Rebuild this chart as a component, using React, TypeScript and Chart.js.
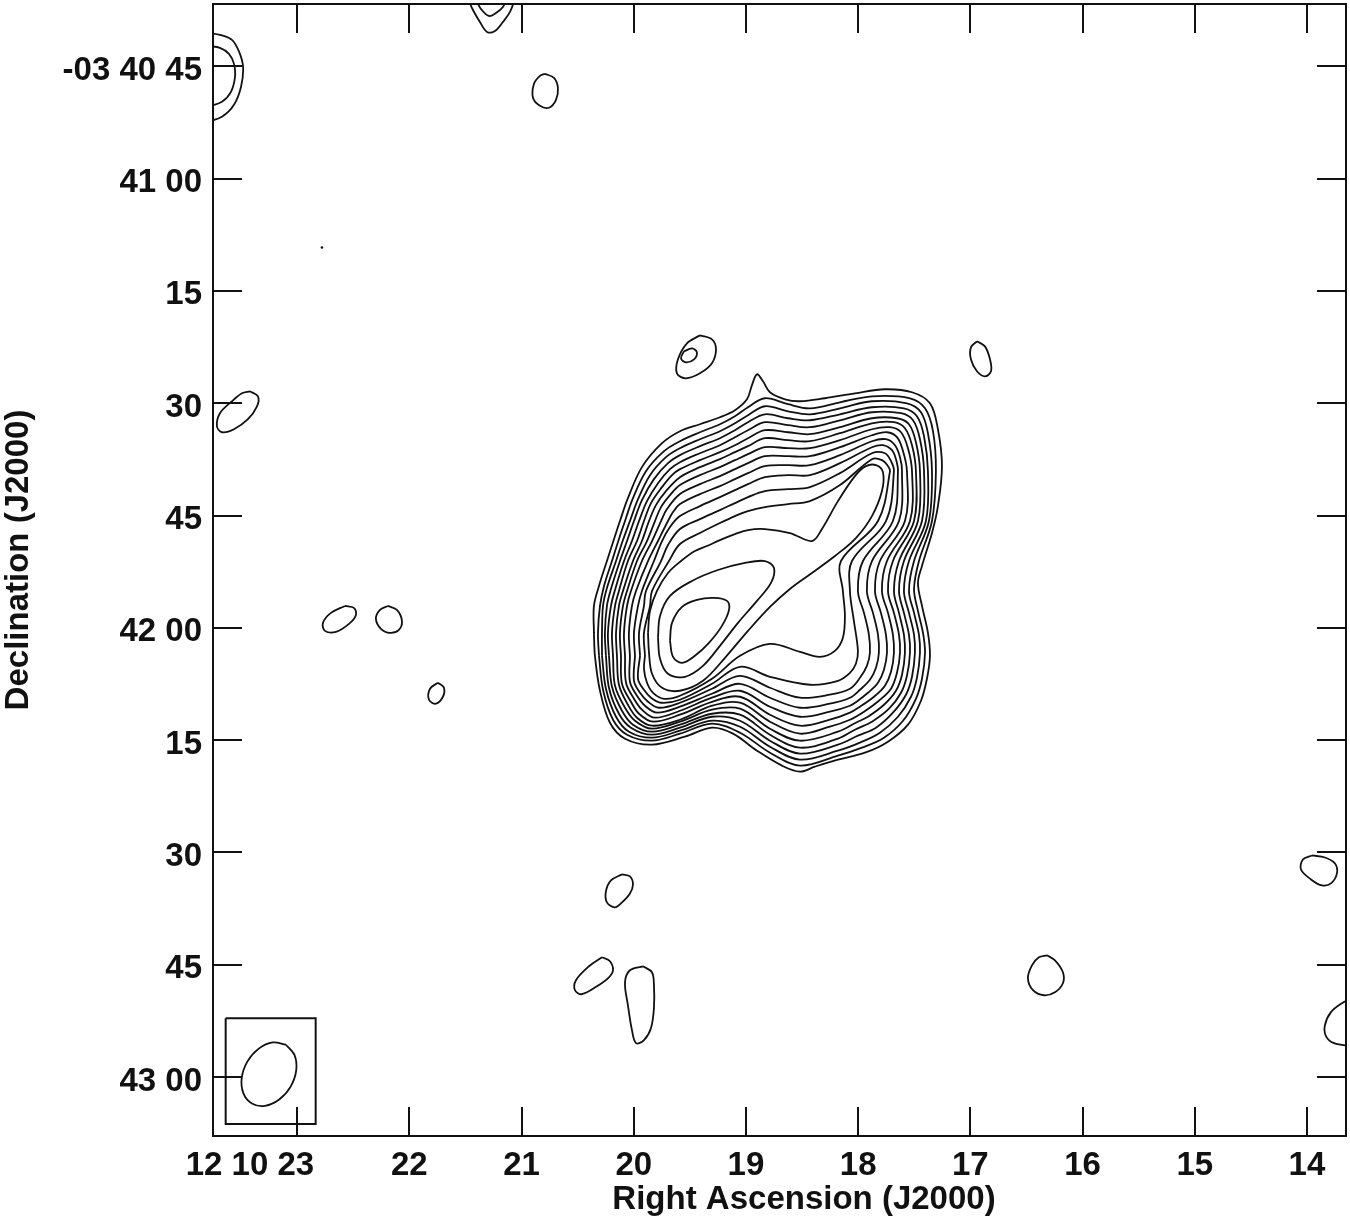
import React, { useEffect, useRef } from 'react';
import { Chart, registerables } from 'chart.js';

Chart.register(...registerables);

// ---------- axes (RA: seconds after 12h10m, Dec: arcsec south of -03°40'00") ----------
const RA_RANGE = [13.652, 23.75];
const DEC_RANGE = [36.67, 187.87];
const RA_TICK_VALUES = [23, 22, 21, 20, 19, 18, 17, 16, 15, 14];
const RA_TICK_LABELS = ['12 10 23', '22', '21', '20', '19', '18', '17', '16', '15', '14'];
const DEC_TICK_VALUES = [45, 60, 75, 90, 105, 120, 135, 150, 165, 180];
const DEC_TICK_LABELS = ['-03 40 45', '41 00', '15', '30', '45', '42 00', '15', '30', '45', '43 00'];
const X_TITLE = 'Right Ascension (J2000)';
const Y_TITLE = 'Declination (J2000)';

// ---------- main source contours, [ra, dec, ra, dec, ...], outermost first ----------
const SRC_L01 = [20.355,120.67, 20.355,117.07, 20.310,114.4, 20.239,111.07, 20.167,107.73, 20.123,105.73, 20.052,102.67, 19.927,98.53, 19.748,95.33, 19.588,93.73, 19.410,92.8, 19.232,91.87, 19.098,90.93, 18.991,89.47, 18.947,87.6, 18.902,86.13, 18.848,87.07, 18.786,88.53, 18.652,89.47, 18.519,89.73, 18.296,89.33, 18.029,88.67, 17.761,88.13, 17.520,88.53, 17.360,90.0, 17.289,93.47, 17.253,98.4, 17.289,103.73, 17.342,107.33, 17.431,111.73, 17.467,114.0, 17.431,117.07, 17.378,120.67, 17.360,123.73, 17.387,126.8, 17.440,129.73, 17.556,132.93, 17.734,135.2, 17.939,136.67, 18.180,137.6, 18.385,138.53, 18.519,139.2, 18.679,138.4, 18.902,136.4, 19.116,134.13, 19.303,133.33, 19.544,134.53, 19.837,135.6, 20.078,134.8, 20.212,132.67, 20.301,128.4, 20.346,123.73];
const SRC_L02 = [20.310,123.73, 20.319,120.67, 20.301,117.07, 20.265,114.4, 20.194,111.07, 20.132,108.13, 20.078,105.73, 20.007,102.67, 19.891,99.07, 19.730,96.4, 19.588,95.07, 19.410,93.87, 19.232,92.8, 19.098,91.73, 18.982,90.53, 18.831,89.33, 18.625,90.13, 18.430,90.67, 18.162,89.87, 17.877,89.07, 17.538,89.33, 17.404,90.67, 17.333,93.73, 17.307,99.07, 17.342,105.73, 17.458,111.07, 17.502,114.8, 17.467,117.73, 17.422,120.67, 17.404,123.33, 17.431,126.8, 17.485,129.47, 17.600,132.4, 17.770,134.67, 17.966,136.0, 18.180,137.07, 18.519,138.4, 18.786,136.67, 19.053,134.0, 19.303,132.8, 19.588,134.13, 19.837,135.07, 20.060,134.27, 20.185,132.27, 20.274,128.27];
const SRC_L03 = [20.283,123.73, 20.283,120.67, 20.274,117.07, 20.239,114.67, 20.158,111.07, 20.096,108.27, 20.034,105.73, 19.962,102.8, 19.855,99.6, 19.713,97.2, 19.588,96.0, 19.410,94.8, 19.232,93.73, 19.098,92.67, 18.982,91.6, 18.831,90.4, 18.625,91.07, 18.430,91.47, 18.162,90.67, 17.877,89.73, 17.565,90.0, 17.440,91.2, 17.378,94.0, 17.342,99.07, 17.369,105.73, 17.502,111.07, 17.547,115.07, 17.502,118.0, 17.458,120.93, 17.449,123.33, 17.476,126.67, 17.529,129.2, 17.645,131.87, 17.806,134.0, 17.984,135.33, 18.180,136.4, 18.519,137.6, 18.786,135.87, 19.053,133.2, 19.303,132.4, 19.588,133.73, 19.837,134.67, 20.043,133.87, 20.158,131.87, 20.248,128.13];
const SRC_L04 = [20.248,123.73, 20.257,120.67, 20.239,117.07, 20.203,114.8, 20.123,111.07, 20.060,108.4, 19.998,105.73, 19.927,102.93, 19.820,100.13, 19.695,98.0, 19.588,96.93, 19.410,95.73, 19.232,94.67, 19.098,93.6, 18.982,92.53, 18.831,91.47, 18.625,92.0, 18.430,92.27, 18.162,91.47, 17.877,90.53, 17.592,90.67, 17.476,91.73, 17.413,94.4, 17.378,99.07, 17.396,105.73, 17.547,111.07, 17.592,115.07, 17.547,118.0, 17.502,120.93, 17.494,123.33, 17.520,126.53, 17.574,128.93, 17.690,131.33, 17.841,133.33, 18.002,134.4, 18.180,135.6, 18.519,136.8, 18.786,135.07, 19.053,132.4, 19.303,131.87, 19.588,133.33, 19.837,134.27, 20.025,133.33, 20.132,131.47, 20.221,128.0];
const SRC_L05 = [20.221,123.73, 20.230,120.67, 20.203,117.07, 20.167,114.93, 20.087,111.07, 20.016,108.4, 19.953,105.73, 19.882,103.07, 19.784,100.67, 19.677,98.8, 19.588,97.87, 19.410,96.67, 19.232,95.6, 19.098,94.53, 18.982,93.6, 18.831,92.53, 18.625,92.93, 18.430,93.2, 18.162,92.27, 17.877,91.2, 17.618,91.33, 17.511,92.27, 17.449,94.8, 17.413,99.07, 17.431,105.73, 17.592,111.07, 17.636,115.07, 17.592,118.0, 17.547,120.93, 17.538,123.33, 17.565,126.4, 17.618,128.67, 17.725,130.8, 17.877,132.53, 18.029,133.6, 18.180,134.8, 18.519,136.0, 18.786,134.27, 19.053,131.6, 19.303,131.47, 19.588,132.93, 19.837,133.87, 20.007,132.93, 20.105,131.07, 20.194,127.87];
const SRC_L06 = [20.185,123.73, 20.194,120.67, 20.167,117.07, 20.132,115.07, 20.052,111.07, 19.971,108.4, 19.909,105.73, 19.846,103.33, 19.748,101.2, 19.659,99.6, 19.588,98.8, 19.410,97.6, 19.232,96.53, 19.098,95.6, 18.982,94.67, 18.831,93.6, 18.625,93.87, 18.430,94.13, 18.162,93.2, 17.877,92.0, 17.654,92.0, 17.547,92.8, 17.485,95.2, 17.449,99.07, 17.467,105.73, 17.636,111.07, 17.681,115.07, 17.636,118.0, 17.592,120.93, 17.583,123.33, 17.609,126.27, 17.663,128.4, 17.770,130.27, 17.913,131.87, 18.020,132.67, 18.180,133.87, 18.519,135.07, 18.786,133.47, 19.053,130.8, 19.303,130.93, 19.588,132.53, 19.837,133.47, 19.989,132.4, 20.078,130.67, 20.167,127.73];
const SRC_L07 = [20.150,123.73, 20.158,120.67, 20.132,117.07, 20.096,115.07, 20.007,111.07, 19.927,108.4, 19.864,105.73, 19.802,103.6, 19.713,101.73, 19.588,99.87, 19.410,98.53, 19.232,97.47, 19.098,96.53, 18.982,95.73, 18.831,94.67, 18.625,94.93, 18.430,95.07, 18.162,94.0, 17.877,92.67, 17.681,92.53, 17.583,93.33, 17.520,95.6, 17.485,99.07, 17.502,105.73, 17.690,111.07, 17.734,115.07, 17.681,118.0, 17.636,120.93, 17.627,123.33, 17.654,126.0, 17.707,128.13, 17.815,129.73, 17.948,131.2, 18.073,132.27, 18.252,133.2, 18.519,134.13, 18.786,132.53, 19.053,130.0, 19.303,130.4, 19.588,132.27, 19.837,133.07, 19.971,132.0, 20.052,130.27, 20.132,127.6];
const SRC_L08 = [20.114,123.73, 20.123,120.67, 20.096,117.07, 20.060,115.07, 19.971,111.07, 19.882,108.4, 19.811,105.73, 19.757,103.87, 19.677,102.27, 19.588,100.93, 19.410,99.6, 19.232,98.53, 19.098,97.6, 18.982,96.8, 18.831,95.87, 18.625,96.0, 18.430,96.0, 18.162,94.93, 17.877,93.47, 17.716,93.2, 17.618,93.87, 17.556,96.0, 17.520,99.07, 17.538,105.73, 17.743,111.07, 17.788,115.07, 17.734,118.0, 17.690,120.93, 17.681,123.33, 17.707,125.87, 17.761,127.73, 17.859,129.2, 17.984,130.53, 18.073,131.33, 18.252,132.27, 18.519,133.07, 18.786,131.6, 19.053,129.2, 19.303,129.87, 19.588,131.6, 19.828,132.53, 19.953,131.47, 20.025,129.87, 20.105,127.47];
const SRC_L09 = [20.078,123.73, 20.087,120.67, 20.060,117.07, 20.025,115.07, 19.927,111.07, 19.837,108.4, 19.757,105.73, 19.704,104.13, 19.588,102.13, 19.410,100.8, 19.232,99.73, 19.098,98.8, 18.982,98.0, 18.831,97.07, 18.625,97.07, 18.430,97.07, 18.162,95.87, 17.877,94.27, 17.743,93.87, 17.654,94.53, 17.600,96.4, 17.565,99.07, 17.583,105.73, 17.806,111.07, 17.850,115.07, 17.797,118.0, 17.752,120.93, 17.743,123.33, 17.770,125.6, 17.823,127.33, 17.913,128.67, 18.002,129.73, 18.073,130.4, 18.252,131.2, 18.519,131.87, 18.786,130.53, 19.053,128.4, 19.303,129.33, 19.588,131.07, 19.811,132.0, 19.927,130.93, 19.998,129.47, 20.069,127.33];
const SRC_L10 = [20.034,123.73, 20.043,120.67, 20.016,117.07, 19.980,115.07, 19.873,111.07, 19.784,108.4, 19.695,105.73, 19.650,104.53, 19.588,103.47, 19.410,102.13, 19.232,101.07, 19.098,100.13, 18.982,99.33, 18.831,98.4, 18.625,98.27, 18.430,98.27, 18.162,96.93, 17.877,95.07, 17.752,94.8, 17.672,95.6, 17.627,97.2, 17.609,99.07, 17.636,105.73, 17.877,111.07, 17.922,115.07, 17.868,118.0, 17.823,120.93, 17.815,123.33, 17.841,125.33, 17.895,126.93, 17.984,128.27, 18.073,129.33, 18.252,130.13, 18.519,130.67, 18.786,129.33, 19.053,127.47, 19.303,128.8, 19.588,130.53, 19.793,131.33, 19.900,130.4, 19.971,129.07, 20.034,127.2];
const SRC_L11 = [19.989,123.73, 19.998,120.67, 19.962,117.07, 19.927,115.07, 19.820,111.07, 19.748,108.4, 19.677,106.53, 19.588,105.07, 19.410,103.73, 19.232,102.53, 19.098,101.6, 18.982,100.8, 18.831,99.87, 18.625,99.6, 18.430,99.6, 18.162,98.0, 17.877,95.87, 17.779,95.6, 17.699,96.27, 17.663,97.47, 17.645,99.07, 17.690,105.73, 17.957,111.07, 18.002,115.07, 17.948,118.0, 17.904,120.93, 17.895,123.33, 17.922,125.07, 17.984,126.67, 18.073,128.13, 18.252,128.93, 18.519,129.33, 18.786,128.0, 19.053,126.4, 19.303,128.13, 19.588,130.0, 19.775,130.67, 19.873,129.87, 19.944,128.67, 19.998,127.07];
const SRC_L12 = [19.944,123.73, 19.953,120.67, 19.909,117.07, 19.891,115.07, 19.757,111.07, 19.695,108.93, 19.588,106.8, 19.410,105.47, 19.232,104.27, 19.098,103.33, 18.982,102.53, 18.831,101.73, 18.625,101.47, 18.430,101.2, 18.162,99.33, 17.877,96.67, 17.761,96.67, 17.707,97.73, 17.681,99.07, 17.752,105.73, 18.055,111.07, 18.073,115.07, 18.038,119.07, 18.002,123.07, 18.020,124.8, 18.073,126.0, 18.180,127.07, 18.430,127.6, 18.786,126.53, 19.053,125.2, 19.303,127.47, 19.588,129.6, 19.757,130.0, 19.846,129.33, 19.909,128.27, 19.962,126.8];
const SRC_L13 = [19.900,123.73, 19.909,120.67, 19.855,117.07, 19.837,115.07, 19.686,111.07, 19.588,108.8, 19.410,107.33, 19.232,106.0, 19.098,105.07, 18.982,104.4, 18.831,103.87, 18.625,103.47, 18.430,103.07, 18.162,100.93, 17.877,97.47, 17.788,97.6, 17.734,98.4, 17.716,99.07, 17.823,105.73, 18.153,111.07, 18.136,115.07, 18.118,118.4, 18.136,121.33, 18.207,123.07, 18.341,123.87, 18.519,123.2, 18.786,122.13, 19.053,123.73, 19.303,126.8, 19.588,129.07, 19.730,129.47, 19.828,128.67, 19.882,127.33, 19.909,125.47];
const SRC_L14 = [19.873,120.67, 19.855,117.73, 19.793,115.07, 19.695,112.67, 19.579,111.07, 19.455,109.73, 19.348,109.07, 19.232,108.27, 19.098,107.47, 18.982,106.93, 18.831,106.8, 18.608,107.33, 18.412,108.4, 18.323,106.8, 18.180,103.07, 18.029,99.73, 17.931,98.4, 17.841,98.27, 17.779,99.2, 17.788,101.73, 17.877,105.07, 18.020,108.0, 18.207,110.4, 18.412,112.67, 18.608,114.8, 18.786,117.2, 18.982,120.4, 19.187,124.0, 19.383,127.07, 19.588,128.4, 19.748,128.0, 19.837,126.13, 19.864,123.33];
const SRC_L15 = [19.784,121.33, 19.766,118.4, 19.677,115.73, 19.481,113.73, 19.250,112.27, 19.009,111.33, 18.831,111.07, 18.750,112.0, 18.777,114.0, 18.902,116.4, 19.071,119.33, 19.232,122.4, 19.383,125.07, 19.544,126.53, 19.695,126.13, 19.766,124.13];
const SRC_L16 = [19.677,121.73, 19.659,119.33, 19.570,117.2, 19.437,116.27, 19.285,116.0, 19.169,116.4, 19.151,117.6, 19.214,119.73, 19.330,122.0, 19.455,123.73, 19.570,124.67, 19.650,123.87];

// ---------- small noise islands (closed) ----------
const OVAL_TOP = [20.791,46.0, 20.711,46.53, 20.676,47.87, 20.693,49.47, 20.756,50.53, 20.836,50.27, 20.898,49.2, 20.889,47.33, 20.836,46.27];
const OVAL_N_OUTER = [19.410,80.93, 19.303,81.47, 19.267,82.8, 19.303,84.67, 19.410,86.0, 19.535,86.67, 19.615,86.0, 19.606,84.13, 19.526,82.0];
const OVAL_N_INNER = [19.553,83.07, 19.481,82.67, 19.437,83.2, 19.463,84.13, 19.535,84.53, 19.579,84.0];
const OVAL_NE = [16.941,81.73, 16.870,82.4, 16.825,84.13, 16.816,85.73, 16.870,86.4, 16.941,85.73, 16.995,84.13, 16.995,82.53];
const OVAL_W = [23.421,88.4, 23.349,89.07, 23.358,90.4, 23.439,92.13, 23.563,93.47, 23.670,93.87, 23.715,93.07, 23.688,91.33, 23.581,89.73, 23.492,88.67];
const OVAL_W2 = [22.574,117.07, 22.494,117.33, 22.476,118.27, 22.538,119.47, 22.654,120.53, 22.752,120.4, 22.770,119.33, 22.699,118.0];
const OVAL_W3 = [22.191,117.07, 22.111,117.6, 22.066,119.07, 22.093,120.27, 22.173,120.67, 22.253,120.13, 22.298,118.8, 22.262,117.6];
const OVAL_W4 = [21.745,127.33, 21.692,128.0, 21.701,129.2, 21.763,130.13, 21.825,129.6, 21.816,128.13];
const OVAL_S1 = [20.105,152.93, 20.034,153.2, 20.007,154.27, 20.034,155.47, 20.105,156.67, 20.168,157.33, 20.239,156.67, 20.248,155.2, 20.203,153.73];
const OVAL_S2 = [20.283,164.0, 20.212,164.53, 20.185,165.73, 20.221,166.67, 20.328,167.87, 20.462,168.93, 20.524,168.4, 20.515,167.07, 20.399,165.2];
const OVAL_S3 = [19.918,165.2, 19.838,166.0, 19.820,167.73, 19.820,170.8, 19.847,173.47, 19.909,175.07, 19.980,175.47, 20.016,173.73, 20.052,170.4, 20.078,167.33, 20.034,165.73];
const OVAL_SE = [16.317,163.73, 16.246,164.4, 16.175,166.0, 16.175,167.47, 16.246,168.67, 16.344,169.07, 16.442,168.4, 16.487,166.8, 16.451,165.07, 16.389,164.0];
const OVAL_E = [13.955,150.4, 13.840,150.67, 13.750,151.47, 13.733,152.8, 13.786,154.13, 13.866,154.4, 13.964,153.6, 14.053,152.27, 14.036,150.93];
const NOISE_DOT = [22.779, 69.2];

// ---------- islands cut by the frame (open) ----------
const ARC_TL_OUTER = [23.795,40.53, 23.688,40.8, 23.581,41.47, 23.517,43.07, 23.482,45.07, 23.500,47.73, 23.563,50.13, 23.670,51.73, 23.795,52.4];
const ARC_TL_INNER = [23.795,42.27, 23.688,42.53, 23.608,43.33, 23.563,44.67, 23.554,46.4, 23.590,48.4, 23.670,49.73, 23.795,50.4];
const ARC_TOP_OUTER = [21.478,36.0, 21.433,37.47, 21.371,39.07, 21.308,40.4, 21.237,40.27, 21.166,39.07, 21.103,37.73, 21.059,36.0];
const ARC_TOP_INNER = [21.406,36.13, 21.362,37.33, 21.291,38.27, 21.228,37.87, 21.166,37.07, 21.139,36.13];
const ARC_RIGHT = [13.599,169.47, 13.688,170.13, 13.786,171.33, 13.840,173.07, 13.831,174.53, 13.759,175.47, 13.599,175.87];

// ---------- restoring beam ----------
const BEAM = [23.100,175.68, 23.024,177.04, 23.008,179.08, 23.058,181.27, 23.160,183.0, 23.286,183.84, 23.403,183.52, 23.479,182.17, 23.494,180.12, 23.444,177.93, 23.342,176.2, 23.217,175.37];
const BEAM_BOX = [23.637,172.13, 22.835,172.13, 22.835,186.27, 23.637,186.27];

const SOURCE_CONTOURS = [SRC_L01, SRC_L02, SRC_L03, SRC_L04, SRC_L05, SRC_L06, SRC_L07, SRC_L08, SRC_L09, SRC_L10, SRC_L11, SRC_L12, SRC_L13, SRC_L14, SRC_L15, SRC_L16];
const ISLANDS = [OVAL_TOP, OVAL_N_OUTER, OVAL_N_INNER, OVAL_NE, OVAL_W, OVAL_W2, OVAL_W3, OVAL_W4, OVAL_S1, OVAL_S2, OVAL_S3, OVAL_SE, OVAL_E];
const EDGE_ARCS = [ARC_TL_OUTER, ARC_TL_INNER, ARC_TOP_OUTER, ARC_TOP_INNER, ARC_RIGHT];

const INK = '#111111';
const FONT = 'bold 33px "Liberation Sans", Arial, Helvetica, sans-serif';

function toPoints(flat: number[], close: boolean) {
  const pts: { x: number; y: number }[] = [];
  for (let i = 0; i + 1 < flat.length; i += 2) pts.push({ x: flat[i], y: flat[i + 1] });
  if (close && pts.length) pts.push({ x: pts[0].x, y: pts[0].y });
  return pts;
}

const frameAndLabels = {
  id: 'frameAndLabels',
  afterDatasetsDraw(chart: any) {
    const { ctx, chartArea: a, scales } = chart;
    const xs = scales.x;
    const ys = scales.y;
    const tick = 29;
    ctx.save();
    ctx.strokeStyle = INK;
    ctx.lineWidth = 2;
    ctx.strokeRect(a.left, a.top, a.right - a.left, a.bottom - a.top);
    ctx.beginPath();
    RA_TICK_VALUES.forEach((v) => {
      const px = Math.round(xs.getPixelForValue(v));
      ctx.moveTo(px, a.top);
      ctx.lineTo(px, a.top + tick);
      ctx.moveTo(px, a.bottom);
      ctx.lineTo(px, a.bottom - tick);
    });
    DEC_TICK_VALUES.forEach((v) => {
      const py = Math.round(ys.getPixelForValue(v));
      ctx.moveTo(a.left, py);
      ctx.lineTo(a.left + tick, py);
      ctx.moveTo(a.right, py);
      ctx.lineTo(a.right - tick, py);
    });
    ctx.stroke();

    ctx.fillStyle = INK;
    ctx.font = FONT;
    ctx.textBaseline = 'alphabetic';
    RA_TICK_VALUES.forEach((v, i) => {
      const px = xs.getPixelForValue(v);
      if (i === 0) {
        ctx.textAlign = 'right';
        ctx.fillText(RA_TICK_LABELS[i], px + 17, a.bottom + 39);
      } else {
        ctx.textAlign = 'center';
        ctx.fillText(RA_TICK_LABELS[i], px, a.bottom + 39);
      }
    });
    ctx.textAlign = 'right';
    DEC_TICK_VALUES.forEach((v, i) => {
      const py = ys.getPixelForValue(v);
      ctx.fillText(DEC_TICK_LABELS[i], a.left - 11, py + 13.5);
    });

    ctx.textAlign = 'center';
    ctx.fillText(X_TITLE, 804, a.bottom + 73);
    ctx.translate(27.5, 560);
    ctx.rotate(-Math.PI / 2);
    ctx.fillText(Y_TITLE, 0, 0);
    ctx.restore();
  },
};

export default function App() {
  const canvasRef = useRef<HTMLCanvasElement | null>(null);

  useEffect(() => {
    document.body.style.margin = '0';
    const canvas = canvasRef.current;
    if (!canvas) return;

    const base = {
      showLine: true,
      borderColor: INK,
      borderWidth: 1.8,
      pointRadius: 0,
      pointHoverRadius: 0,
      fill: false,
      tension: 0.35,
    };
    const datasets: any[] = [];
    SOURCE_CONTOURS.forEach((c) => datasets.push({ ...base, data: toPoints(c, true) }));
    ISLANDS.forEach((c) => datasets.push({ ...base, data: toPoints(c, true) }));
    EDGE_ARCS.forEach((c) => datasets.push({ ...base, data: toPoints(c, false) }));
    datasets.push({ ...base, data: toPoints(BEAM, true) });
    datasets.push({ ...base, borderWidth: 2, tension: 0, data: toPoints(BEAM_BOX, true) });
    datasets.push({
      showLine: false,
      data: toPoints(NOISE_DOT, false),
      pointRadius: 1.3,
      pointBackgroundColor: INK,
      pointBorderWidth: 0,
    });

    const chart = new Chart(canvas, {
      type: 'scatter',
      data: { datasets },
      options: {
        responsive: false,
        animation: false,
        events: [],
        layout: { padding: { left: 213, right: 4, top: 2, bottom: 83 } },
        scales: {
          x: { type: 'linear', reverse: true, min: RA_RANGE[0], max: RA_RANGE[1], display: false },
          y: { type: 'linear', reverse: true, min: DEC_RANGE[0], max: DEC_RANGE[1], display: false },
        },
        elements: { line: { capBezierPoints: false } },
        plugins: { legend: { display: false }, tooltip: { enabled: false } },
      } as any,
      plugins: [frameAndLabels],
    });
    return () => chart.destroy();
  }, []);

  return (
    <div style={{ width: 1350, height: 1219, background: '#fff' }}>
      <canvas ref={canvasRef} width={1350} height={1219} style={{ display: 'block' }} />
    </div>
  );
}
